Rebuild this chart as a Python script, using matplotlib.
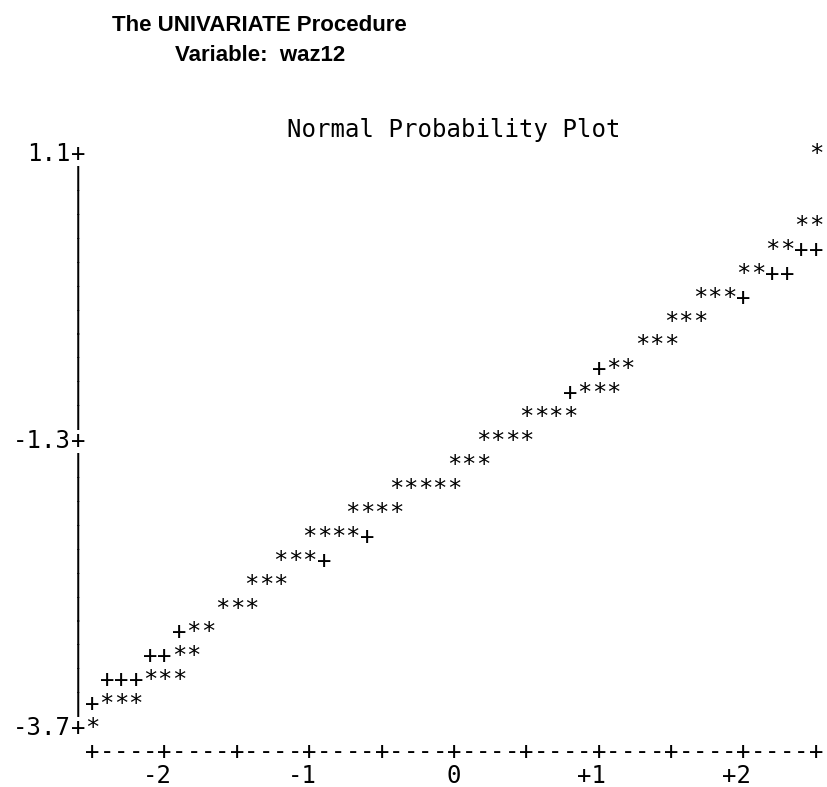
import numpy as np
import matplotlib
matplotlib.use('Agg')
import matplotlib.pyplot as plt

# Row values (y) of the observations, top to bottom
star_y = [1.1, 0.5, 0.3, 0.1, -0.1, -0.3, -0.5, -0.7, -0.9, -1.1, -1.3, -1.5,
          -1.7, -1.9, -2.1, -2.3, -2.5, -2.7, -2.9, -3.1, -3.3, -3.5, -3.7]
# Normal quantile positions of the '*' marks in each of those rows
star_x = [
    [2.5],
    [2.4, 2.5],
    [2.2, 2.3],
    [2.0, 2.1],
    [1.7, 1.8, 1.9],
    [1.5, 1.6, 1.7],
    [1.3, 1.4, 1.5],
    [1.1, 1.2],
    [0.9, 1.0, 1.1],
    [0.5, 0.6, 0.7, 0.8],
    [0.2, 0.3, 0.4, 0.5],
    [0.0, 0.1, 0.2],
    [-0.4, -0.3, -0.2, -0.1, 0.0],
    [-0.7, -0.6, -0.5, -0.4],
    [-1.0, -0.9, -0.8, -0.7],
    [-1.2, -1.1, -1.0],
    [-1.4, -1.3, -1.2],
    [-1.6, -1.5, -1.4],
    [-1.8, -1.7],
    [-1.9, -1.8],
    [-2.1, -2.0, -1.9],
    [-2.4, -2.3, -2.2],
    [-2.5],
]

# Reference normal line ('+' marks) that is still visible
ref_y = [0.3, 0.1, -0.1, -0.7, -0.9, -2.1, -2.3, -2.9, -3.1, -3.3, -3.5]
ref_x = [
    [2.4, 2.5],
    [2.2, 2.3],
    [2.0],
    [1.0],
    [0.8],
    [-0.6],
    [-0.9],
    [-1.9],
    [-2.1, -2.0],
    [-2.4, -2.3, -2.2],
    [-2.5],
]

y_ticks = [1.1, -1.3, -3.7]
y_ticklabels = ['1.1', '-1.3', '-3.7']
x_ticks = [-2, -1, 0, 1, 2]
x_ticklabels = ['-2', '-1', '0', '+1', '+2']

MONO = 'DejaVu Sans Mono'
FS = 17.3
ROW = 0.2     # one printer line
COL = 0.1     # one printer column
BASE = 0.068  # baseline offset below the row centre


def put(ax, x, y, s, ha='center'):
    ax.text(x, y - BASE, s, ha=ha, va='baseline', family=MONO, fontsize=FS,
            color='black')


fig = plt.figure(figsize=(8.27, 7.87), dpi=100)
ax = fig.add_axes([0, 0, 1, 1])
ax.set_xlim(-3.138, 2.576)
ax.set_ylim(-4.202, 2.379)
ax.axis('off')

# plot marks
for y, xs in zip(ref_y, ref_x):
    for x in xs:
        put(ax, x, y, '+')
for y, xs in zip(star_y, star_x):
    for x in xs:
        put(ax, x, y, '*')

# vertical axis
x_axis_col = -2.5 - COL
for y in np.round(np.arange(1.1, -3.7 - 1e-9, -ROW), 1):
    put(ax, x_axis_col, y, '+' if y in y_ticks else '|')
for y, lab in zip(y_ticks, y_ticklabels):
    put(ax, x_axis_col - COL / 2, y, lab, ha='right')

# horizontal axis
bottom = -3.7 - ROW
for x in np.round(np.arange(-2.5, 2.5 + 1e-9, COL), 1):
    put(ax, x, bottom, '+' if abs(x * 2 - round(x * 2)) < 1e-9 else '-')
for x, lab in zip(x_ticks, x_ticklabels):
    put(ax, x + COL / 2, bottom - ROW, lab, ha='right')

put(ax, 0.0, 1.1 + ROW, 'Normal Probability Plot')

fig.text(0.314, 0.968, 'The UNIVARIATE Procedure', ha='center', va='center',
         family='Liberation Sans', fontweight='bold', fontsize=16)
fig.text(0.314, 0.930, 'Variable:  waz12', ha='center', va='center',
         family='Liberation Sans', fontweight='bold', fontsize=16)

plt.savefig('out.png', dpi=100)
